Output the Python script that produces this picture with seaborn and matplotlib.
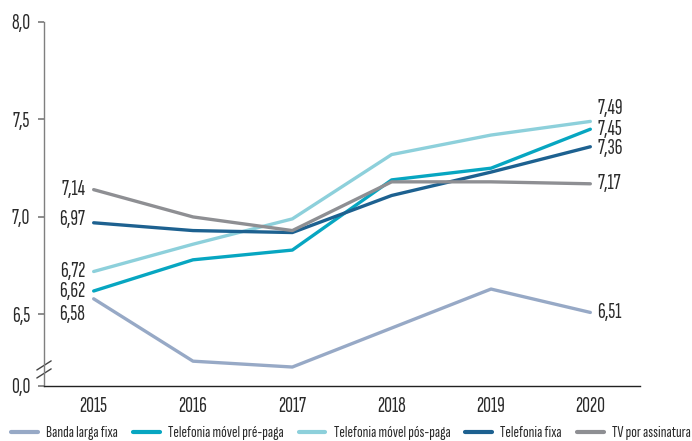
import matplotlib
matplotlib.use("Agg")
import matplotlib.pyplot as plt
import seaborn as sns
import pandas as pd

years = [2015, 2016, 2017, 2018, 2019, 2020]
series_names = ["Banda larga fixa", "Telefonia móvel pré-paga",
                "Telefonia móvel pós-paga", "Telefonia fixa", "TV por assinatura"]
banda_larga = [6.58, 6.26, 6.23, 6.43, 6.63, 6.51]
movel_pre = [6.62, 6.78, 6.83, 7.19, 7.25, 7.45]
movel_pos = [6.72, 6.86, 6.99, 7.32, 7.42, 7.49]
fixa = [6.97, 6.93, 6.92, 7.11, 7.23, 7.36]
tv = [7.14, 7.00, 6.93, 7.18, 7.18, 7.17]
ytick_values = [6.5, 7.0, 7.5, 8.0]
ytick_labels = ["6,5", "7,0", "7,5", "8,0"]

colors = ["#97A9C6", "#07A6C1", "#8DD0DB", "#1D6190", "#8E8F93"]

all_vals = [banda_larga, movel_pre, movel_pos, fixa, tv]
df = pd.DataFrame([
    {"ano": y, "valor": v, "serie": n}
    for n, vals in zip(series_names, all_vals) for y, v in zip(years, vals)
])

sns.set_theme(style="white")
plt.rcParams["font.family"] = ["Sofia Sans Extra Condensed", "Roboto Condensed",
                               "Liberation Sans", "DejaVu Sans"]

TXT = "#2a2a2a"
FS = 15.5
fig = plt.figure(figsize=(6.92, 4.41), dpi=100)
ax = fig.add_axes([44/692, 1-386/441, (640-44)/692, (386-22)/441])

sns.lineplot(data=df, x="ano", y="valor", hue="serie", hue_order=series_names,
             palette=colors, linewidth=2.4, ax=ax, legend=True, sort=False)

ybottom = 6.5 - 72/196
ax.set_ylim(ybottom, 8.0)
ax.set_xlim(2014.5, 2020.5)
ax.set_yticks([ybottom] + ytick_values)
ax.set_yticklabels(["0,0"] + ytick_labels)
ax.set_xticks(years)
ax.set_xticklabels([str(y) for y in years])
ax.set_xlabel("")
ax.set_ylabel("")
for s in ["top", "right"]:
    ax.spines[s].set_visible(False)
ax.spines["left"].set_color("#7f7f7f")
ax.spines["left"].set_linewidth(1.0)
ax.spines["bottom"].set_color("#222222")
ax.spines["bottom"].set_linewidth(1.0)
ax.tick_params(axis="y", which="both", left=True, length=4, color="#7f7f7f",
               labelsize=FS, labelcolor=TXT, pad=6)
ax.tick_params(axis="x", bottom=False, labelsize=FS, labelcolor=TXT, pad=2)

# axis break marks
for dy in (-0.018, 0.004):
    ax.plot([-0.012, 0.012], [0.04 + dy, 0.065 + dy], transform=ax.transAxes,
            color="#444444", lw=1.0, clip_on=False)

# value labels
left_offsets = [-11, 0, 0, 2, 0]
right_offsets = [0, 0, 9, -1, 0]
for vals, lo, ro in zip(all_vals, left_offsets, right_offsets):
    ax.annotate(f"{vals[0]:.2f}".replace(".", ","), (years[0], vals[0]),
                xytext=(-6, lo), textcoords="offset points", ha="right",
                va="center", fontsize=FS, color=TXT)
    ax.annotate(f"{vals[-1]:.2f}".replace(".", ","), (years[-1], vals[-1]),
                xytext=(5, ro), textcoords="offset points", ha="left",
                va="center", fontsize=FS, color=TXT)

leg = ax.legend(loc="center", bbox_to_anchor=((351 - 44) / 596, (386 - 433) / 364), ncol=5,
                frameon=False, fontsize=12, handlelength=1.6, columnspacing=0.9,
                handletextpad=0.5, borderaxespad=0)
for t in leg.get_texts():
    t.set_color(TXT)
for line in leg.get_lines():
    line.set_linewidth(3)

fig.savefig("out.png", dpi=100)
